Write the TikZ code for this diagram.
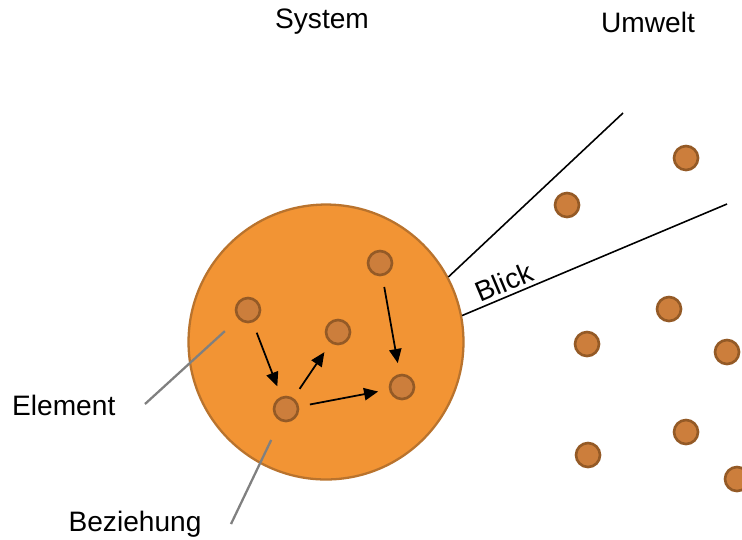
\documentclass[tikz,border=0pt]{standalone}
\usepackage{fontspec}
\setmainfont{Liberation Sans}
\usetikzlibrary{arrows.meta}
\definecolor{sysfill}{HTML}{F29434}
\definecolor{sysdraw}{HTML}{B9732D}
\definecolor{elemfill}{HTML}{CC7E3C}
\definecolor{elemdraw}{HTML}{945A26}
\begin{document}
\begin{tikzpicture}[x=0.02cm, y=-0.02cm,
	element/.style={circle, fill=elemfill, draw=elemdraw, line width=1.5pt, minimum size=0.48cm, inner sep=0pt},
	relation/.style={-{Triangle[length=8pt,width=7pt]}, line width=1pt, shorten <=0.22cm, shorten >=0.22cm},
	pointer/.style={draw=gray, line width=1.3pt},
	view/.style={line width=0.9pt},
	lbl/.style={font=\fontsize{16}{19}\selectfont}]
	\useasboundingbox (0,0) rectangle (742,539);
	% system
	\node[circle, fill=sysfill, draw=sysdraw, line width=1.3pt, minimum size=5.5cm] (sys) at (326,342) {};
	\node[element] (e1) at (248,310) {};
	\node[element] (e2) at (338,332) {};
	\node[element] (e3) at (380,263) {};
	\node[element] (e4) at (402,387) {};
	\node[element] (e5) at (286,409) {};
	\draw[relation] (e1) -- (e5);
	\draw[relation] (e5) -- (e2);
	\draw[relation] (e5) -- (e4);
	\draw[relation] (e3) -- (e4);
	% umwelt
	\node[element] (u1) at (567,205) {};
	\node[element] (u2) at (686,158) {};
	\node[element] (u3) at (669,309) {};
	\node[element] (u4) at (587,344) {};
	\node[element] (u5) at (727,352) {};
	\node[element] (u6) at (686,432) {};
	\node[element] (u7) at (588,455) {};
	\node[element] (u8) at (737,479) {};
	% blick
	\coordinate (viewA) at (623,113);
	\coordinate (viewB) at (727,204);
	\draw[view] (sys.28.7) -- (viewA);
	\draw[view] (sys.11.5) -- (viewB) node[lbl, pos=0.18, sloped, above, inner sep=2pt] (blick) {Blick};
	% labels
	\node[lbl] (system) at (322,22) {System};
	\node[lbl] (umwelt) at (648,22) {Umwelt};
	\node[lbl, anchor=west] (lblElement) at (6,405) {Element};
	\node[lbl] (lblBeziehung) at (135,524) {Beziehung};
	\coordinate (elemEnd) at (145,404);
	\coordinate (relEnd) at (231,524);
	\draw[pointer, shorten >=0.36cm] (elemEnd) -- (e1);
	\draw[pointer, shorten >=0.42cm] (relEnd) -- (e5);
\end{tikzpicture}
\end{document}
